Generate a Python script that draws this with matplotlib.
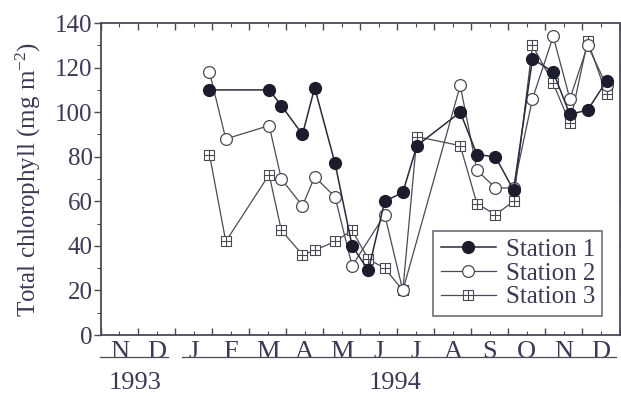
import matplotlib
matplotlib.use('Agg')
import matplotlib.pyplot as plt
from matplotlib.path import Path
from matplotlib.ticker import MultipleLocator, FixedLocator, FixedFormatter, NullFormatter

# sampling dates in months from 1 Nov 1993
dates = [2.93, 3.37, 4.54, 4.87, 5.44, 5.77, 6.32, 6.78, 7.22, 7.66, 8.15,
         8.53, 9.70, 10.15, 10.65, 11.14, 11.65, 12.21, 12.66, 13.14, 13.65]

# total chlorophyll (mg m-2); None where the station was not sampled
station1 = [110, None, 110, 103, 90, 111, 77, 40, 29, 60, 64,
            85, 100, 81, 80, 65, 124, 118, 99, 101, 114]
station2 = [118, 88, 94, 70, 58, 71, 62, 31, None, 54, 20,
            None, 112, 74, 66, 66, 106, 134, 106, 130, 112]
station3 = [81, 42, 72, 47, 36, 38, 42, 47, 34, 30, 20,
            89, 85, 59, 54, 60, 130, 113, 95, 132, 108]

months = ['N', 'D', 'J', 'F', 'M', 'A', 'M', 'J', 'J', 'A', 'S', 'O', 'N', 'D']
years = ['1993', '1994']

TEXT = '#3a3a55'
LINE = '#4a4a55'

plt.rcParams['font.family'] = 'serif'
plt.rcParams['font.serif'] = ['Liberation Serif', 'DejaVu Serif']
plt.rcParams['mathtext.fontset'] = 'custom'
plt.rcParams['mathtext.rm'] = 'Liberation Serif'
plt.rcParams['mathtext.it'] = 'Liberation Serif:italic'


def pairs(xs, ys):
    pts = [(x, y) for x, y in zip(xs, ys) if y is not None]
    return [p[0] for p in pts], [p[1] for p in pts]


# square with a cross inside
box_cross = Path([(-1, -1), (1, -1), (1, 1), (-1, 1), (-1, -1),
                  (0, -1), (0, 1), (-1, 0), (1, 0)],
                 [Path.MOVETO, Path.LINETO, Path.LINETO, Path.LINETO, Path.CLOSEPOLY,
                  Path.MOVETO, Path.LINETO, Path.MOVETO, Path.LINETO])

fig = plt.figure(figsize=(6.21, 4.03), dpi=100)
ax = fig.add_axes([0.1626, 0.1687, 0.835, 0.774])

x1, y1 = pairs(dates, station1)
x2, y2 = pairs(dates, station2)
x3, y3 = pairs(dates, station3)

ax.plot(x3, y3, color=LINE, lw=0.9, marker=box_cross, ms=7.5, mfc='white',
        mec=LINE, mew=0.8, label='Station 3', zorder=2)
ax.plot(x2, y2, color=LINE, lw=0.9, marker='o', ms=8.5, mfc='white',
        mec=LINE, mew=0.9, label='Station 2', zorder=3)
ax.plot(x1, y1, color='#2a2a3a', lw=1.1, marker='o', ms=8.5, mfc='#1c1c2c',
        mec='#1c1c2c', label='Station 1', zorder=4)

ax.set_xlim(0, 14)
ax.set_ylim(0, 140)

ax.yaxis.set_major_locator(MultipleLocator(20))
ax.yaxis.set_minor_locator(MultipleLocator(10))
ax.xaxis.set_major_locator(MultipleLocator(1))
ax.xaxis.set_major_formatter(NullFormatter())
ax.xaxis.set_minor_locator(FixedLocator([i + 0.5 for i in range(14)]))
ax.xaxis.set_minor_formatter(FixedFormatter(months))

ax.tick_params(axis='y', which='both', direction='out', left=True, right=True,
               labelsize=18, colors=LINE, labelcolor=TEXT, pad=1)
ax.tick_params(axis='y', which='major', length=5, width=1)
ax.tick_params(axis='y', which='minor', length=3, width=0.8)
ax.tick_params(axis='x', which='both', direction='in', top=True, bottom=True,
               colors=LINE, labelcolor=TEXT, labelsize=19)
ax.tick_params(axis='x', which='major', length=5, width=1)
ax.tick_params(axis='x', which='minor', length=3, width=0.8, pad=4)

for side in ['left', 'right', 'top', 'bottom']:
    ax.spines[side].set_color(LINE)
    ax.spines[side].set_linewidth(1.3)

ax.set_ylabel('Total chlorophyll (mg m$^{-2}$)', fontsize=18, color=TEXT, labelpad=9)

# year brackets under the month labels
tr = ax.get_xaxis_transform()
ax.plot([-0.03, 1.82], [-0.07, -0.07], transform=tr, color=LINE, lw=0.9, clip_on=False)
ax.plot([2.2, 13.9], [-0.07, -0.07], transform=tr, color=LINE, lw=0.9, clip_on=False)
ax.text(0.92, -0.155, years[0], transform=tr, ha='center', va='center',
        fontsize=19, color=TEXT)
ax.text(7.95, -0.155, years[1], transform=tr, ha='center', va='center',
        fontsize=19, color=TEXT)

handles, labels = ax.get_legend_handles_labels()
leg = ax.legend(handles[::-1], labels[::-1], loc='lower right',
                bbox_to_anchor=(0.967, 0.061), borderaxespad=0, fontsize=18,
                frameon=True, fancybox=False, handlelength=2.2, handletextpad=0.4,
                labelspacing=0.05, borderpad=0.3, labelcolor=TEXT)
leg.get_frame().set_edgecolor(LINE)
leg.get_frame().set_linewidth(1.2)

fig.savefig('out.png', dpi=100)
